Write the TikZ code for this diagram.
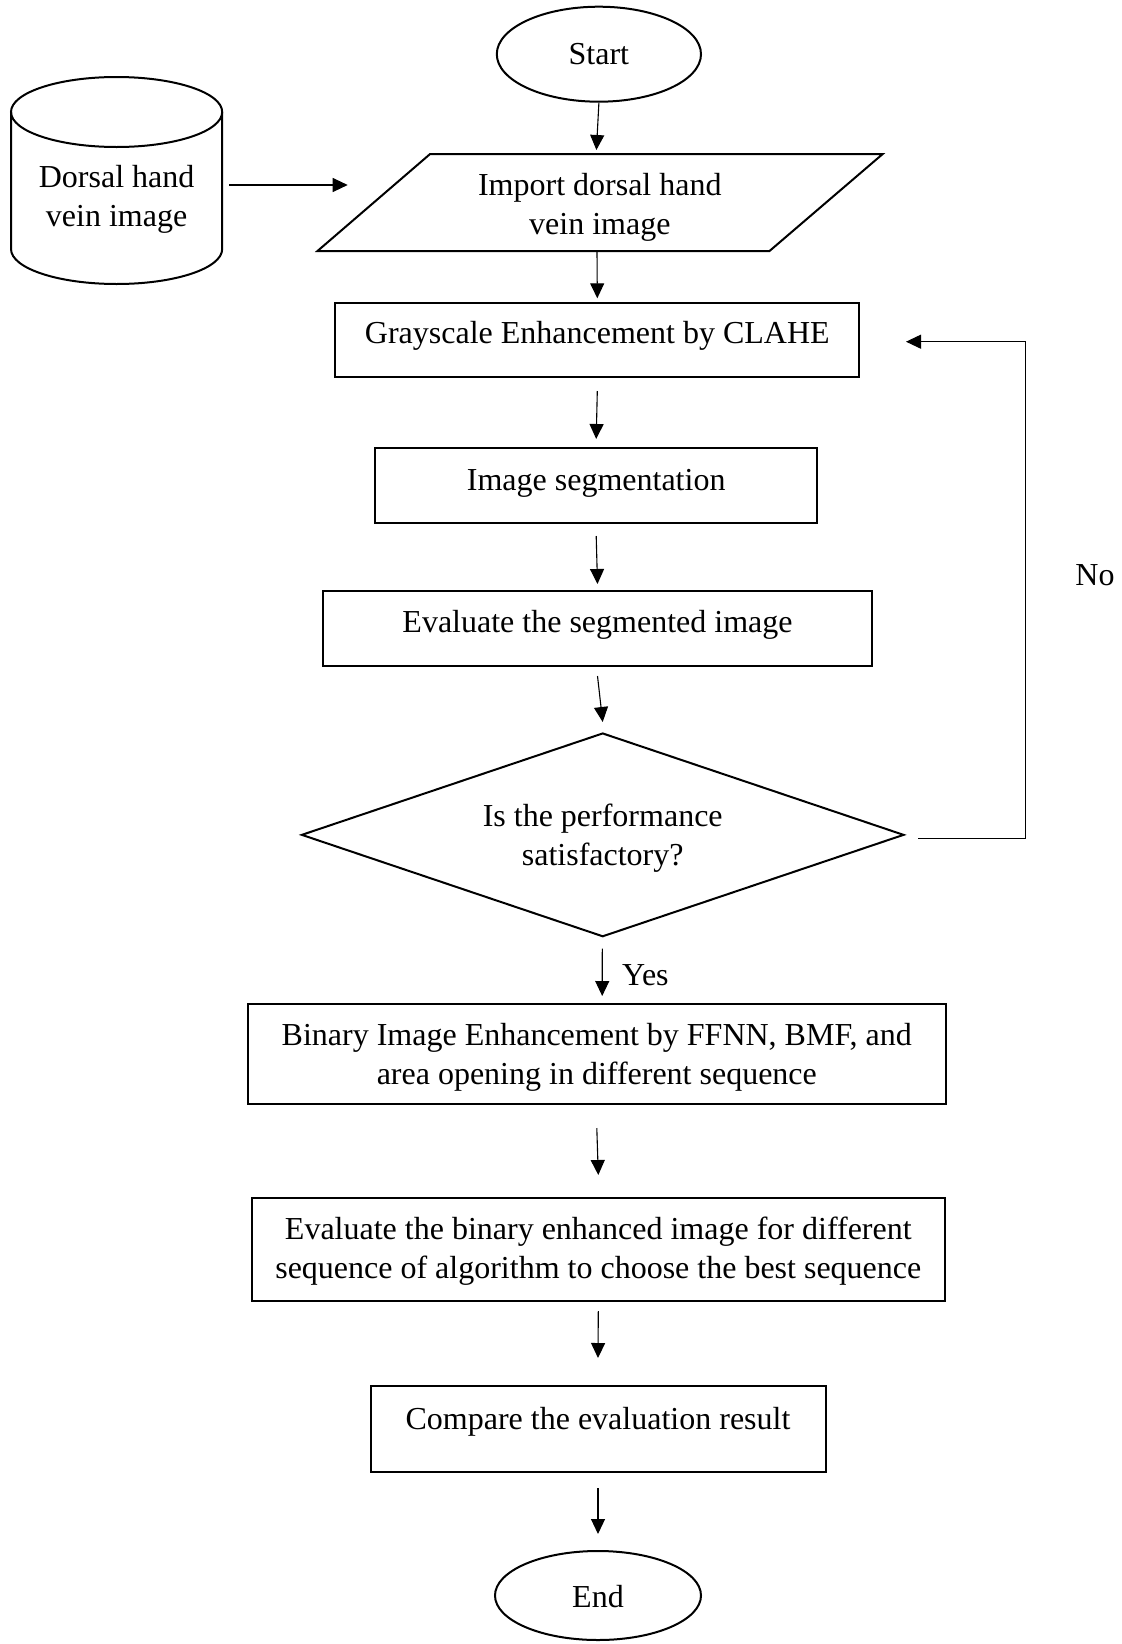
\documentclass[tikz,border=0pt]{standalone}
\usepackage{fontspec}
\setmainfont{Liberation Serif}
\usetikzlibrary{shapes.geometric,arrows.meta}
\begin{document}
\begin{tikzpicture}[x=0.5pt,y=-0.5pt,
  every node/.style={font=\fontsize{16pt}{19.5pt}\selectfont},
  box/.style={draw,line width=1pt,rectangle,inner sep=0pt},
  txt/.style={align=center,inner sep=0pt},
  term/.style={draw,line width=1pt,ellipse,inner sep=0pt},
  shp/.style={line width=1pt},
  arr/.style={line width=0.55pt,-{Triangle[length=7.5pt,width=7pt]}}]
\useasboundingbox (0,0) rectangle (1122,1644);

% terminals
\node[term,minimum width=102.1pt,minimum height=47.5pt] (start) at (598.9,54.2) {Start};
\node[term,minimum width=103pt,minimum height=44.5pt] (end) at (598,1595.5) {};
\node[txt] (endT) at (598,1597) {End};

% database cylinder
\draw[shp] (116.6,112) ellipse[x radius=52.8pt,y radius=17.5pt];
\draw[shp] (11,112) -- (11,249) arc[start angle=180,end angle=360,x radius=52.8pt,y radius=17.5pt] -- (222.2,112);
\node[txt] (db) at (116.6,199) {Dorsal hand\\vein image};
\coordinate (dbE) at (229.2,185);

% input parallelogram
\draw[shp] (430.1,154) -- (882.7,154) -- (769.5,251) -- (317.5,251) -- cycle;
\node[txt] (imp) at (599.8,207) {Import dorsal hand\\vein image};
\coordinate (impN) at (596.4,154);
\coordinate (impS) at (597,251);
\coordinate (impW) at (347.7,185);

% process boxes
\node[box,minimum width=262pt,minimum height=37pt] (gray) at (597.3,340.3) {};
\node[txt] (grayT) at (597.3,336.2) {Grayscale Enhancement by CLAHE};
\node[box,minimum width=221.25pt,minimum height=37.5pt] (seg) at (596.2,485.5) {};
\node[txt] (segT) at (596.2,483) {Image segmentation};
\node[box,minimum width=274.75pt,minimum height=37.5pt] (evs) at (597.5,628.5) {};
\node[txt] (evsT) at (597.5,625) {Evaluate the segmented image};

% decision
\node[draw,line width=1pt,diamond,aspect=3,inner sep=0pt,
      minimum width=301.25pt,minimum height=101.85pt] (dia) at (602.7,834.85) {};
\node[txt] (diaT) at (602.7,838) {Is the performance\\satisfactory?};

\node[box,minimum width=349.25pt,minimum height=50pt] (bin) at (596.8,1054) {};
\node[txt] (binT) at (596.8,1057) {Binary Image Enhancement by FFNN, BMF, and\\area opening in different sequence};
\node[box,minimum width=346.65pt,minimum height=51.1pt] (evb) at (598.3,1249.4) {};
\node[txt] (evbT) at (598.3,1251) {Evaluate the binary enhanced image for different\\sequence of algorithm to choose the best sequence};
\node[box,minimum width=227.5pt,minimum height=42.85pt] (cmp) at (598,1428.85) {};
\node[txt] (cmpT) at (598,1422) {Compare the evaluation result};

% labels
\node[txt] (yes) at (645.4,975) {Yes};
\node[txt] (no) at (1095,575) {No};

% connectors
\draw[arr] (start.south) -- ([yshift=2pt]impN);
\draw[arr] (dbE) -- (impW);
\draw[arr] (impS) -- ([yshift=2pt]gray.north);
\draw[arr] ([yshift=-6.35pt]gray.south) -- ([yshift=4pt]seg.north);
\draw[arr] ([yshift=-6pt]seg.south) -- ([yshift=3pt]evs.north);
\draw[arr] ([yshift=-4.5pt]evs.south) -- ([yshift=5pt]dia.north);
\draw[arr] ([yshift=-5.5pt,xshift=-0.2pt]dia.south) -- ([yshift=3.5pt,xshift=2.7pt]bin.north);
\draw[arr] ([yshift=-11.5pt]bin.south) -- ([yshift=11.15pt]evb.north);
\draw[arr] ([yshift=-4.75pt]evb.south) -- ([yshift=13.5pt]cmp.north);
\draw[arr] ([yshift=-7.65pt]cmp.south) -- ([yshift=8pt]end.north);
\draw[arr] ([xshift=6.65pt,yshift=-2pt]dia.east) -- ++(53.5pt,0) |- ([xshift=22.85pt,yshift=-0.7pt]gray.east);
\end{tikzpicture}
\end{document}
